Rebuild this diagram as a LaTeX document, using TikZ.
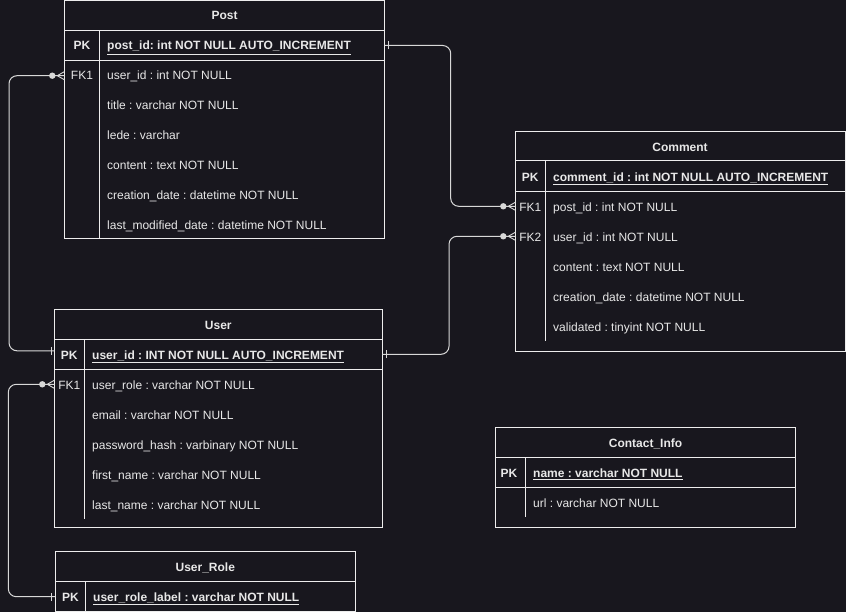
\documentclass[tikz,border=0pt]{standalone}
\usepackage{fontspec}
\setmainfont{Liberation Sans}
\frenchspacing
\begin{document}
\frenchspacing
\definecolor{bgc}{HTML}{18171E}
\definecolor{linec}{HTML}{EDEDED}
\definecolor{connc}{HTML}{D8D8D8}
\definecolor{txtc}{HTML}{E8E8E8}
\begin{tikzpicture}[x=1pt,y=-1pt,
  font=\fontsize{12pt}{14pt}\selectfont\frenchspacing,
  tblbox/.style={draw=linec, line width=1pt, inner sep=0pt, outer sep=0pt, anchor=north west},
  rowbox/.style={inner sep=0pt, outer sep=0pt, minimum height=30pt, anchor=north west},
  tline/.style={draw=linec, line width=1pt},
  sline/.style={draw=linec, line width=0.8pt},
  ttl/.style={anchor=base, inner sep=0pt, text=txtc, font=\fontsize{12pt}{14pt}\selectfont\frenchspacing\bfseries},
  keyl/.style={anchor=base, inner sep=0pt, text=txtc},
  pkl/.style={anchor=base, inner sep=0pt, text=txtc, font=\fontsize{12pt}{14pt}\selectfont\frenchspacing\bfseries},
  fld/.style={anchor=base west, inner sep=0pt, text=txtc},
  pkfld/.style={anchor=base west, inner sep=0pt, text=txtc, font=\fontsize{12pt}{14pt}\selectfont\frenchspacing\bfseries},
  conn/.style={draw=connc, line width=1pt, rounded corners=8pt},
  onebar/.pic={\draw[connc, line width=1pt] (0,-4pt) -- (0,4pt);},
  zeromany/.pic={\fill[connc] (-12pt,0) circle[radius=3.2pt];
                 \draw[connc, line width=0.9pt] (0,4pt) -- (-7pt,0) -- (0,-4pt);
                 \draw[connc, line width=1pt] (-12pt,0) -- (0,0);}
]
\fill[bgc] (0,0) rectangle (846,612);
\useasboundingbox (0,0) rectangle (846,612);

% ---------------- Post ----------------
\node[tblbox, minimum width=320.4pt, minimum height=238.3pt] (post) at (64.3,0.7) {};
\node[rowbox, minimum width=320.4pt, minimum height=30.4pt] (postpk) at (64.3,30.3) {};
\node[rowbox, minimum width=320.4pt] (postfk1) at (64.3,60.7) {};
\draw[tline] (64.3,30.3) -- (384.7,30.3);
\draw[tline] (64.3,60.7) -- (384.7,60.7);
\draw[sline] (99.7,30.3) -- (99.7,239);
\node[ttl] (posttitle) at (224.5,20) {Post};
\node[pkl] (postpkl) at (82,50) {PK};
\node[pkfld] (postpkf) at (107,50) {\underline{post\_id: int NOT NULL AUTO\_INCREMENT}};
\node[keyl] (postfkl) at (82,80) {FK1};
\node[fld] (postf1) at (107,80) {user\_id : int NOT NULL};
\node[fld] (postf2) at (107,110) {title : varchar NOT NULL};
\node[fld] (postf3) at (107,140) {lede : varchar};
\node[fld] (postf4) at (107,170) {content : text NOT NULL};
\node[fld] (postf5) at (107,200) {creation\_date : datetime NOT NULL};
\node[fld] (postf6) at (107,230) {last\_modified\_date : datetime NOT NULL};

% ---------------- Comment ----------------
\node[tblbox, minimum width=329.7pt, minimum height=219.3pt] (cmt) at (515.3,131.7) {};
\node[rowbox, minimum width=329.7pt] (cmtfk1) at (515.3,191.3) {};
\node[rowbox, minimum width=329.7pt] (cmtfk2) at (515.3,221.3) {};
\draw[tline] (515.3,161) -- (845,161);
\draw[tline] (515.3,191.3) -- (845,191.3);
\draw[sline] (545.7,161) -- (545.7,341);
\node[ttl] (cmttitle) at (680,151.5) {Comment};
\node[pkl] (cmtpkl) at (530.3,181.5) {PK};
\node[pkfld] (cmtpkf) at (553,181.5) {\underline{comment\_id : int NOT NULL AUTO\_INCREMENT}};
\node[keyl] (cmtfk1l) at (530.3,211.5) {FK1};
\node[fld] (cmtf1) at (553,211.5) {post\_id : int NOT NULL};
\node[keyl] (cmtfk2l) at (530.3,241.5) {FK2};
\node[fld] (cmtf2) at (553,241.5) {user\_id : int NOT NULL};
\node[fld] (cmtf3) at (553,271.5) {content : text NOT NULL};
\node[fld] (cmtf4) at (553,301.5) {creation\_date : datetime NOT NULL};
\node[fld] (cmtf5) at (553,331.5) {validated : tinyint NOT NULL};

% ---------------- User ----------------
\node[tblbox, minimum width=328pt, minimum height=218pt] (user) at (54.3,309.7) {};
\node[rowbox, minimum width=328pt] (userpk) at (54.3,339.3) {};
\node[rowbox, minimum width=328pt] (userfk1) at (54.3,369.3) {};
\draw[tline] (54.3,339.3) -- (382.3,339.3);
\draw[tline] (54.3,369.3) -- (382.3,369.3);
\draw[sline] (84.7,339.3) -- (84.7,519);
\node[ttl] (usertitle) at (218.3,329.3) {User};
\node[pkl] (userpkl) at (69.3,359.3) {PK};
\node[pkfld] (userpkf) at (92,359.3) {\underline{user\_id : INT NOT NULL AUTO\_INCREMENT}};
\node[keyl] (userfkl) at (69.3,389.3) {FK1};
\node[fld] (userf1) at (92,389.3) {user\_role : varchar NOT NULL};
\node[fld] (userf2) at (92,419.3) {email : varchar NOT NULL};
\node[fld] (userf3) at (92,449.3) {password\_hash : varbinary NOT NULL};
\node[fld] (userf4) at (92,479.3) {first\_name : varchar NOT NULL};
\node[fld] (userf5) at (92,509.3) {last\_name : varchar NOT NULL};

% ---------------- User_Role ----------------
\node[tblbox, minimum width=300pt, minimum height=60pt] (role) at (55.3,551.7) {};
\node[rowbox, minimum width=300pt] (rolepk) at (55.3,581.7) {};
\draw[tline] (55.3,581.7) -- (355.3,581.7);
\draw[sline] (85.3,581.7) -- (85.3,611.7);
\node[ttl] (roletitle) at (205.3,571.7) {User\_Role};
\node[pkl] (rolepkl) at (70.4,601.7) {PK};
\node[pkfld] (rolepkf) at (93,601.7) {\underline{user\_role\_label : varchar NOT NULL}};

% ---------------- Contact_Info ----------------
\node[tblbox, minimum width=299.6pt, minimum height=99.6pt] (contact) at (495.7,427.7) {};
\draw[tline] (495.7,457.7) -- (795.3,457.7);
\draw[tline] (495.7,487.7) -- (795.3,487.7);
\draw[sline] (525.3,457.7) -- (525.3,517);
\node[ttl] (contacttitle) at (645.5,447.3) {Contact\_Info};
\node[pkl] (contactpkl) at (509,477.5) {PK};
\node[pkfld] (contactpkf) at (533,477.5) {\underline{name : varchar NOT NULL}};
\node[fld] (contactf1) at (533,507.3) {url : varchar NOT NULL};

% ---------------- Connectors ----------------
% Post.post_id -> Comment.post_id
\draw[conn] (postpk.east) -- ++(66,0) |- (cmtfk1.west);
\pic at ([xshift=4pt]postpk.east) {onebar};
\pic at (cmtfk1.west) {zeromany};

% User.user_id -> Comment.user_id
\draw[conn] (userpk.east) -- ++(66.7,0) |- (cmtfk2.west);
\pic at ([xshift=4pt]userpk.east) {onebar};
\pic at (cmtfk2.west) {zeromany};

% User.user_id -> Post.user_id
\draw[conn] ([yshift=3.5pt]userpk.west) -- ++(-45.3,0) |- (postfk1.west);
\pic at ([xshift=-3pt,yshift=3.5pt]userpk.west) {onebar};
\pic at (postfk1.west) {zeromany};

% User_Role.user_role_label -> User.user_role
\draw[conn] (rolepk.west) -- ++(-47,0) |- (userfk1.west);
\pic at ([xshift=-4pt]rolepk.west) {onebar};
\pic at (userfk1.west) {zeromany};
\end{tikzpicture}
\end{document}
